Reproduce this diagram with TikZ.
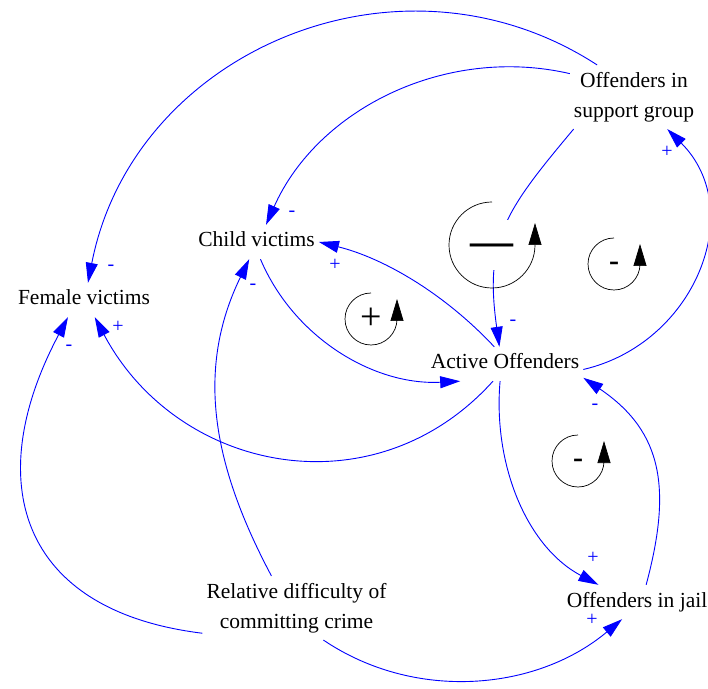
\documentclass[tikz,border=0pt]{standalone}
\usepackage{fontspec}
\setmainfont{Liberation Serif}
\usetikzlibrary{positioning,arrows.meta}

\tikzset{
	var/.style={font=\fontsize{21.5}{30}\selectfont, align=center, inner xsep=4pt, inner ysep=7pt},
	svar/.style={var, text height=15pt, text depth=5pt},
	pol/.style={blue, font=\fontsize{20}{20}\selectfont, inner sep=0pt},
	link/.style={blue, line width=0.9pt, -{Triangle[length=20pt,width=12pt]}},
	loopsign/.style={inner sep=0pt, text depth=0pt},
	looparc/.style={black, line width=0.7pt, -{Triangle[length=22pt,width=13pt]}}
}

\begin{document}
\begin{tikzpicture}[x=1pt, y=1pt, on grid]
	\useasboundingbox (0,0) rectangle (708,688);

	\node[svar]                                      at (505,324) (act)   {Active Offenders};
	\node[var, above right=267pt and 129pt of act]   (sup)   {Offenders in\\support group};
	\node[svar, above left=122pt and 248.5pt of act] (child) {Child victims};
	\node[svar, below left=58pt and 172.5pt of child] (fem)  {Female victims};
	\node[svar, below right=238pt and 132pt of act]  (jail)  {Offenders in jail};
	\node[var, below left=244pt and 208.5pt of act]  (diff)  {Relative difficulty of\\committing crime};

	\draw[link] (sup.139)   to[out=147, in=79,  looseness=1.09] (fem.77);
	\draw[link] (sup.160)   to[out=167, in=66,  looseness=0.96] (child.61);
	\draw[link] (sup.208)   to[out=230, in=98,  looseness=1.2]  (act.108);
	\draw[link] (act.122)   to[out=133, in=-14, looseness=0.87] (child.east);
	\draw[link] (child.283) to[out=293, in=183, looseness=0.94] (act.201);
	\draw[link] (act.235)   to[out=228, in=298, looseness=1.12] (fem.302);
	\draw[link] (diff.195)  to[out=173, in=242, looseness=1.38] (fem.227);
	\draw[link] (diff.128)  to[out=118, in=244, looseness=1.0]  (child.247);
	\draw[link] (diff.310)  to[out=326, in=220, looseness=0.95] (jail.229);
	\draw[link] (act.254)   to[out=265, in=152, looseness=0.93] (jail.156);
	\draw[link] (jail.62)   to[out=75,  in=326, looseness=1.15] (act.350);
	\draw[link] (act.356)   to[out=13,  in=315, looseness=1.15] (sup.316);

	\node[loopsign, fill=white, minimum width=46pt, minimum height=50pt, text height=21pt, font=\bfseries\fontsize{43}{43}\selectfont] (l1) at (492,443) {---};
	\node[loopsign, text height=13pt, font=\bfseries\fontsize{30}{30}\selectfont] (l2) at (614,424) {-};
	\node[loopsign, font=\fontsize{38}{38}\selectfont]                            (l3) at (371,369) {+};
	\node[loopsign, text height=13pt, font=\bfseries\fontsize{30}{30}\selectfont] (l4) at (578,227) {-};

	\draw[looparc] ([yshift=43pt]l1.center) arc[start angle=90, end angle=360, radius=43pt] -- ++(0,22);
	\draw[looparc] ([yshift=26pt]l2.center) arc[start angle=90, end angle=360, radius=26pt] -- ++(0,20);
	\draw[looparc] ([yshift=26pt]l3.center) arc[start angle=90, end angle=360, radius=26pt] -- ++(0,20);
	\draw[looparc] ([yshift=26pt]l4.center) arc[start angle=90, end angle=360, radius=26pt] -- ++(0,20);

	\node[pol] (s1)  at (111,420) {-};
	\node[pol] (s2)  at (292,474) {-};
	\node[pol] (s3)  at (513,365) {-};
	\node[pol] (s4)  at (335,423) {+};
	\node[pol] (s5)  at (118,361) {+};
	\node[pol] (s6)  at (69,340)  {-};
	\node[pol] (s7)  at (253,401) {-};
	\node[pol] (s8)  at (592,68)  {+};
	\node[pol] (s9)  at (593,130) {+};
	\node[pol] (s10) at (595,281) {-};
	\node[pol] (s11) at (667,536) {+};
\end{tikzpicture}
\end{document}
